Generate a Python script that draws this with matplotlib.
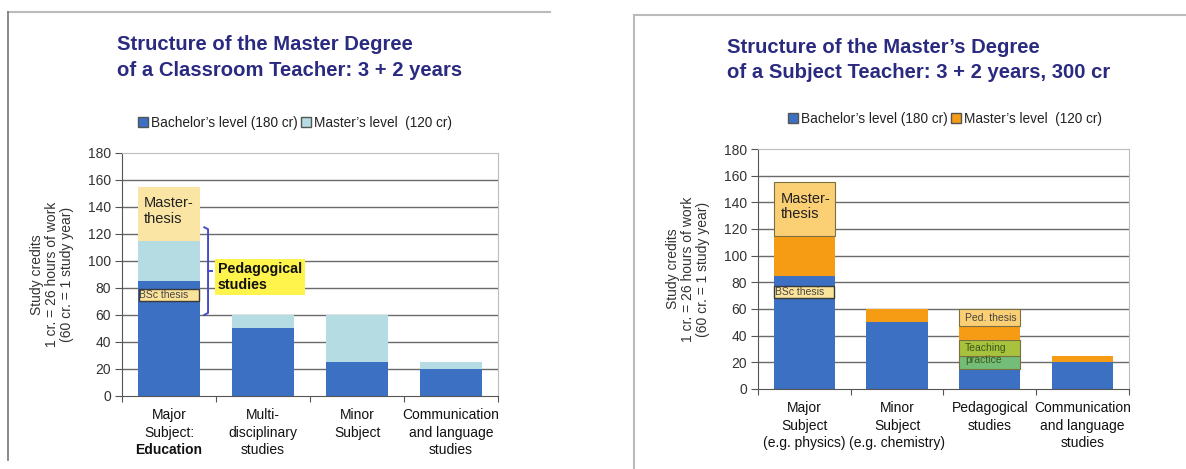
import matplotlib.pyplot as plt
from matplotlib.patches import Patch
from matplotlib.transforms import blended_transform_factory
import numpy as np

plt.rcParams["font.family"] = ["Liberation Sans", "DejaVu Sans"]

# --- data, left slide (classroom teacher) ---
LEFT_TITLE = "Structure of the Master Degree\nof a Classroom Teacher: 3 + 2 years"
left_categories = [
    ["Major", "Subject:", "Education"],
    ["Multi-", "disciplinary", "studies"],
    ["Minor", "Subject"],
    ["Communication", "and language", "studies"],
]
left_bold_lines = {(0, 2)}
left_bachelor = [85, 50, 25, 20]
left_master = [30, 10, 35, 5]
left_thesis = [40, 0, 0, 0]
left_bsc_thesis = (70, 9)       # bottom, height on the major bar
left_ped_range = (60, 125)      # bracket for pedagogical studies

# --- data, right slide (subject teacher) ---
RIGHT_TITLE = "Structure of the Master\u2019s Degree\nof a Subject Teacher: 3 + 2 years, 300 cr"
right_categories = [
    ["Major", "Subject", "(e.g. physics)"],
    ["Minor", "Subject", "(e.g. chemistry)"],
    ["Pedagogical", "studies"],
    ["Communication", "and language", "studies"],
]
right_bachelor = [85, 50, 15, 20]
right_practice_ba = [0, 0, 10, 0]
right_practice_ma = [0, 0, 12, 0]
right_master = [30, 10, 10, 5]
right_thesis = [40, 0, 13, 0]
right_bsc_thesis = (68, 9)

yticks = list(range(0, 181, 20))
ylabel = "Study credits\n1 cr. = 26 hours of work\n(60 cr. = 1 study year)"

BLUE = "#3b70c2"
LIGHT_BLUE = "#b5dce2"
CREAM = "#fbe5a4"
ORANGE = "#f59c14"
LIGHT_ORANGE = "#fbcf74"
OLIVE = "#a8c23e"
GREEN = "#74bd78"
NAVY = "#2a2a80"
TEXT = "#333333"
BAR_W = 0.66


def setup_axes(ax, categories, bold_lines=()):
    n = len(categories)
    ax.set_xlim(-0.5, n - 0.5)
    ax.set_ylim(0, 180)
    ax.set_yticks(yticks)
    ax.tick_params(axis="y", direction="out", length=5, color="#555555",
                   labelsize=10, labelcolor=TEXT, pad=3)
    ax.set_xticks(np.arange(n + 1) - 0.5)
    ax.set_xticklabels([])
    ax.tick_params(axis="x", direction="out", length=4, color="#555555")
    for y in yticks[1:-1]:
        ax.axhline(y, color="#6a6a6a", linewidth=1.0, zorder=0)
    for side in ["top", "right"]:
        ax.spines[side].set_color("#bdbdbd")
    for side in ["left", "bottom"]:
        ax.spines[side].set_color("#555555")
    ax.set_ylabel(ylabel, fontsize=10, color=TEXT, linespacing=1.1, labelpad=10)

    trans = blended_transform_factory(ax.transData, ax.transAxes)
    for i, lines in enumerate(categories):
        for k, line in enumerate(lines):
            ax.annotate(line, xy=(i, 0), xycoords=trans,
                        xytext=(0, -13.5 - k * 12.8), textcoords="offset points",
                        ha="center", va="center", fontsize=10, color="#111111",
                        fontweight="bold" if (i, k) in bold_lines else "normal")


fig = plt.figure(figsize=(11.86, 4.69), dpi=100)

# slide frames
fig.add_artist(plt.Line2D([8 / 1186, 550 / 1186], [1 - 12 / 469] * 2,
                          color="#bbbbbb", linewidth=1.5))
fig.add_artist(plt.Line2D([8 / 1186] * 2, [1 - 12 / 469, 0.02],
                          color="#777777", linewidth=1.2))
fig.add_artist(plt.Line2D([634 / 1186, 1.0], [1 - 15 / 469] * 2,
                          color="#bbbbbb", linewidth=1.5))
fig.add_artist(plt.Line2D([634 / 1186] * 2, [1 - 15 / 469, 0.0],
                          color="#bbbbbb", linewidth=1.5))

# ---------------- left chart ----------------
ax1 = fig.add_axes([0.1029, 0.1557, 0.3170, 0.5181])
setup_axes(ax1, left_categories, left_bold_lines)
x = np.arange(len(left_categories))
b1 = np.array(left_bachelor)
m1 = np.array(left_master)
ax1.bar(x, b1, BAR_W, color=BLUE, zorder=2)
ax1.bar(x, m1, BAR_W, bottom=b1, color=LIGHT_BLUE, zorder=2)
ax1.bar(x, left_thesis, BAR_W, bottom=b1 + m1, color=CREAM, zorder=2)
ax1.bar(0, left_bsc_thesis[1], BAR_W * 0.98, bottom=left_bsc_thesis[0],
        color="#fbe39a", edgecolor="#3a3a3a", linewidth=1.0, zorder=3)
ax1.text(-0.32, left_bsc_thesis[0] + left_bsc_thesis[1] / 2, "BSc thesis",
         fontsize=7.5, color="#444444", va="center", ha="left", zorder=4)
ax1.text(-0.27, (b1[0] + m1[0]) + left_thesis[0] * 0.55, "Master-\nthesis",
         fontsize=10.5, color="#222222", va="center", ha="left",
         linespacing=1.1, zorder=4)

# bracket for pedagogical studies
lo, hi = left_ped_range
bx = 0.415
ax1.plot([0.375, bx, bx, 0.375], [hi, hi - 1.5, lo + 1.5, lo],
         color="#4a4ac8", linewidth=1.4, zorder=4, clip_on=False,
         solid_joinstyle="round")
ax1.plot([bx, bx + 0.04], [(lo + hi) / 2] * 2, color="#4a4ac8",
         linewidth=1.4, zorder=4)
ax1.text(0.52, 88, "Pedagogical\nstudies", fontsize=10.3, fontweight="bold",
         color="#111111", va="center", ha="left", linespacing=1.15, zorder=5,
         bbox=dict(boxstyle="square,pad=0.2", facecolor="#fff44c",
                   edgecolor="none"))

fig.text(117 / 1186, 1 - 57.5 / 469, LEFT_TITLE, fontsize=14.6, fontweight="bold",
         color=NAVY, va="center", ha="left", linespacing=1.42)
fig.legend(handles=[Patch(facecolor=BLUE, edgecolor="#555555", label="Bachelor\u2019s level (180 cr)"),
                    Patch(facecolor=LIGHT_BLUE, edgecolor="#555555", label="Master\u2019s level  (120 cr)")],
           loc="center", bbox_to_anchor=(295 / 1186, 1 - 123 / 469), ncol=2,
           frameon=False, fontsize=9.8, handlelength=0.7, handleheight=0.7,
           handletextpad=0.2, columnspacing=0.3, labelcolor="#222222")

# ---------------- right chart ----------------
ax2 = fig.add_axes([0.6391, 0.1706, 0.3128, 0.5117])
setup_axes(ax2, right_categories)
x = np.arange(len(right_categories))
bottom = np.zeros(len(x))
edge = "#7a7040"
segments = [
    (right_bachelor, BLUE, "none"),
    (right_practice_ba, GREEN, edge),
    (right_practice_ma, OLIVE, edge),
    (right_master, ORANGE, "none"),
    (right_thesis, LIGHT_ORANGE, edge),
]
for vals, col, ec in segments:
    vals = np.array(vals, dtype=float)
    ax2.bar(x, vals, BAR_W, bottom=bottom, color=col, zorder=2,
            edgecolor=[ec if v > 0 else "none" for v in vals], linewidth=0.8)
    bottom += vals
ax2.bar(0, right_bsc_thesis[1], BAR_W * 0.98, bottom=right_bsc_thesis[0],
        color="#fbe39a", edgecolor="#3a3a3a", linewidth=1.0, zorder=3)
ax2.text(-0.32, right_bsc_thesis[0] + right_bsc_thesis[1] / 2, "BSc thesis",
         fontsize=7.5, color="#444444", va="center", ha="left", zorder=4)
ax2.text(-0.25, right_bachelor[0] + right_master[0] + right_thesis[0] * 0.55,
         "Master-\nthesis", fontsize=10.5, color="#222222", va="center",
         ha="left", linespacing=1.1, zorder=4)
top_ped = sum(v[2] for v, _, _ in segments)
ax2.text(2 - 0.27, top_ped - right_thesis[2] / 2, "Ped. thesis", fontsize=7.5,
         color="#444444", va="center", ha="left", zorder=4)
ped_practice_mid = right_bachelor[2] + (right_practice_ba[2] + right_practice_ma[2]) / 2
ax2.text(2 - 0.27, ped_practice_mid, "Teaching\npractice", fontsize=7.5,
         color="#3a5a1a", va="center", ha="left", linespacing=1.25, zorder=4)

fig.text(727 / 1186, 1 - 60 / 469, RIGHT_TITLE, fontsize=14.6, fontweight="bold",
         color=NAVY, va="center", ha="left", linespacing=1.42)
fig.legend(handles=[Patch(facecolor=BLUE, edgecolor="#555555", label="Bachelor\u2019s level (180 cr)"),
                    Patch(facecolor=ORANGE, edgecolor="#555555", label="Master\u2019s level  (120 cr)")],
           loc="center", bbox_to_anchor=(945 / 1186, 1 - 119 / 469), ncol=2,
           frameon=False, fontsize=9.8, handlelength=0.7, handleheight=0.7,
           handletextpad=0.2, columnspacing=0.3, labelcolor="#222222")

fig.savefig("out.png", dpi=100)
